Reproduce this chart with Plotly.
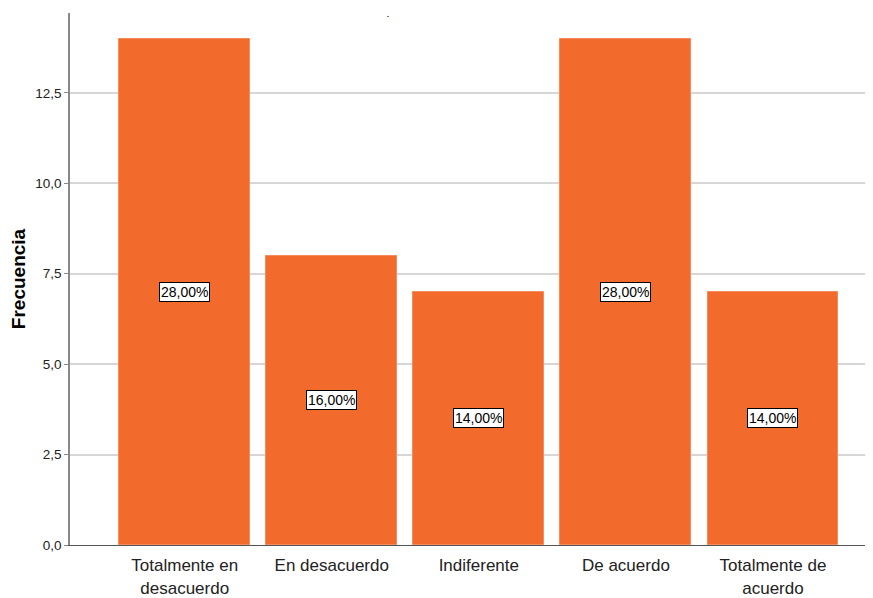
import plotly.graph_objects as go

categorias = ["Totalmente en<br>desacuerdo", "En desacuerdo", "Indiferente", "De acuerdo", "Totalmente de<br>acuerdo"]
frecuencias = [14, 8, 7, 14, 7]
porcentajes = ["28,00%", "16,00%", "14,00%", "28,00%", "14,00%"]
y_ticks = [0, 2.5, 5, 7.5, 10, 12.5]

FONT = 'Arial, Liberation Sans'

fig = go.Figure()
fig.add_trace(go.Bar(
    x=list(range(len(categorias))),
    y=frecuencias,
    width=0.89,
    marker=dict(color='#f26a2c', line=dict(color='#f58a5a', width=1)),
    showlegend=False,
    hoverinfo='skip'
))

# percentage boxes in the middle of each bar
for i, (f, p) in enumerate(zip(frecuencias, porcentajes)):
    fig.add_annotation(
        x=i, y=f / 2, text=p, showarrow=False,
        font=dict(family=FONT, size=14, color='#000000'),
        bgcolor='#ffffff', bordercolor='#000000', borderwidth=1, borderpad=1
    )

# small stray mark at the top as in the original export
fig.add_annotation(
    x=0.3975, xref='paper', y=1.0, yref='paper', yanchor='bottom', yshift=-6,
    text='<b>.</b>', showarrow=False, borderpad=0,
    font=dict(size=7, color='#000000')
)

# page adds an 8px body margin, so margins are shifted by 8
fig.update_layout(
    width=873, height=598,
    paper_bgcolor='#ffffff', plot_bgcolor='#ffffff',
    separators=',.',
    margin=dict(t=5, b=61, l=62, r=11),
    font=dict(family=FONT, color='#222222'),
    bargap=0,
    xaxis=dict(
        range=[-0.78, 4.66],
        tickmode='array', tickvals=list(range(len(categorias))), ticktext=categorias,
        tickfont=dict(size=17, color='#222222'),
        ticklabelstandoff=5,
        showgrid=False, zeroline=False,
        showline=True, linecolor='#555555', linewidth=1,
        ticks='', ticklen=0, automargin=False
    ),
    yaxis=dict(
        range=[0, 14.71],
        tickmode='array', tickvals=y_ticks, tickformat='.1f',
        tickfont=dict(size=13.5, color='#222222'),
        ticks='outside', ticklen=4, tickcolor='#888888',
        showgrid=True, gridcolor='#d6d6d6', gridwidth=1.5,
        zeroline=False,
        showline=True, linecolor='#888888', linewidth=1.5,
        automargin=False,
        title=dict(text='<b>Frecuencia</b>', font=dict(size=19, color='#000000'), standoff=12)
    )
)

fig.write_html("out.html")
